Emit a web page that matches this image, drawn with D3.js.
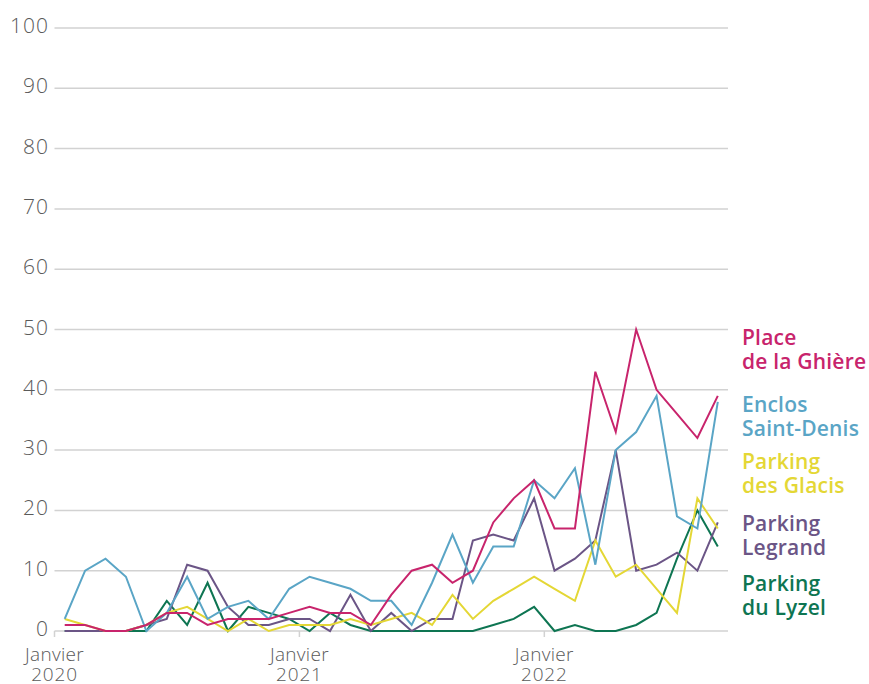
<!DOCTYPE html>
<html><head><meta charset="utf-8">
<script src="https://cdn.jsdelivr.net/npm/d3@7"></script>
<style>
html,body{margin:0;padding:0;background:#fff;}
svg text{font-family:"Open Sans","Noto Sans",sans-serif;}
</style></head>
<body><svg id="c" width="869" height="684"></svg>
<script>
const months = [];
for (let y = 2020; y <= 2022; y++) for (let m = 1; m <= 12; m++) months.push(y + "-" + String(m).padStart(2, "0"));
months.splice(33);
const tickMonths = ["2020-01", "2021-01", "2022-01"];
const tickLabels = [["Janvier", "2020"], ["Janvier", "2021"], ["Janvier", "2022"]];
const yTicks = [0, 10, 20, 30, 40, 50, 60, 70, 80, 90, 100];

const ghiere  = [1,1,0,0,1,3,3,1,2,2,2,3,4,3,3,1,6,10,11,8,10,18,22,25,17,17,43,33,50,40,36,32,39];
const enclos  = [2,10,12,9,0,3,9,2,4,5,2,7,9,8,7,5,5,1,8,16,8,14,14,25,22,27,11,30,33,39,19,17,38];
const glacis  = [2,1,0,0,1,3,4,2,0,2,0,1,1,1,2,1,2,3,1,6,2,5,7,9,7,5,15,9,11,7,3,22,17];
const legrand = [0,0,0,0,1,2,11,10,4,1,1,2,2,0,6,0,3,0,2,2,15,16,15,22,10,12,15,30,10,11,13,10,18];
const lyzel   = [0,0,0,0,0,5,1,8,0,4,3,2,0,3,1,0,0,0,0,0,0,1,2,4,0,1,0,0,1,3,12,20,14];

const seriesNames = [["Place", "de la Ghière"], ["Enclos", "Saint-Denis"], ["Parking", "des Glacis"], ["Parking", "Legrand"], ["Parking", "du Lyzel"]];
const seriesValues = [ghiere, enclos, glacis, legrand, lyzel];
const colors = ["#c8246c", "#5aa5c6", "#e4d735", "#6b5586", "#0e7552"];
const labelBaselines = [345, 412, 469, 531, 591];

const svg = d3.select("#c");
const x0 = 54.5, x1 = 728, yBottom = 631, yTop = 28;
const x = d3.scaleBand().domain(months).range([x0, x1]);
const y = d3.scaleLinear().domain([0, 100]).range([yBottom, yTop]);
const cx = m => x(m) + x.bandwidth() / 2;

// grid
svg.append("g").selectAll("line").data(yTicks).join("line")
  .attr("x1", x0).attr("x2", x1)
  .attr("y1", d => y(d)).attr("y2", d => y(d))
  .attr("stroke", "#d2d2d2").attr("stroke-width", 1.5);
svg.append("g").selectAll("text").data(yTicks).join("text")
  .attr("x", 49).attr("y", d => y(d) + 5)
  .attr("text-anchor", "end").attr("fill", "#5a5a5a")
  .attr("font-size", 21).attr("font-weight", 300)
  .attr("letter-spacing", 1)
  .text(d => d);

// x ticks
const xt = svg.append("g").selectAll("g").data(tickMonths).join("g")
  .attr("transform", d => `translate(${x(d)},0)`);
xt.append("line").attr("y1", yBottom).attr("y2", yBottom + 6).attr("stroke", "#d2d2d2").attr("stroke-width", 1.5);
xt.append("text").attr("y", 661).attr("text-anchor", "middle").attr("fill", "#5a5a5a")
  .attr("font-size", 19).attr("font-weight", 300).attr("letter-spacing", 0.3).text((d, i) => tickLabels[i][0]);
xt.append("text").attr("y", 681).attr("text-anchor", "middle").attr("fill", "#5a5a5a")
  .attr("font-size", 19).attr("font-weight", 300).attr("letter-spacing", 0.8).text((d, i) => tickLabels[i][1]);

// lines
const line = d3.line().x((d, i) => cx(months[i])).y(d => y(d));
const order = [4, 3, 2, 1, 0];
svg.append("g").selectAll("path").data(order).join("path")
  .attr("d", k => line(seriesValues[k]))
  .attr("fill", "none").attr("stroke", k => colors[k])
  .attr("stroke-width", 2).attr("stroke-linejoin", "miter");

// labels
const lg = svg.append("g").selectAll("text").data(seriesNames).join("text")
  .attr("x", 742).attr("y", (d, i) => labelBaselines[i])
  .attr("fill", (d, i) => colors[i]).attr("font-size", 21).attr("font-weight", 600)
  .attr("letter-spacing", 0.2);
lg.append("tspan").attr("x", 742).text(d => d[0]);
lg.append("tspan").attr("x", 742).attr("dy", 23.5).text(d => d[1]);
</script></body></html>
